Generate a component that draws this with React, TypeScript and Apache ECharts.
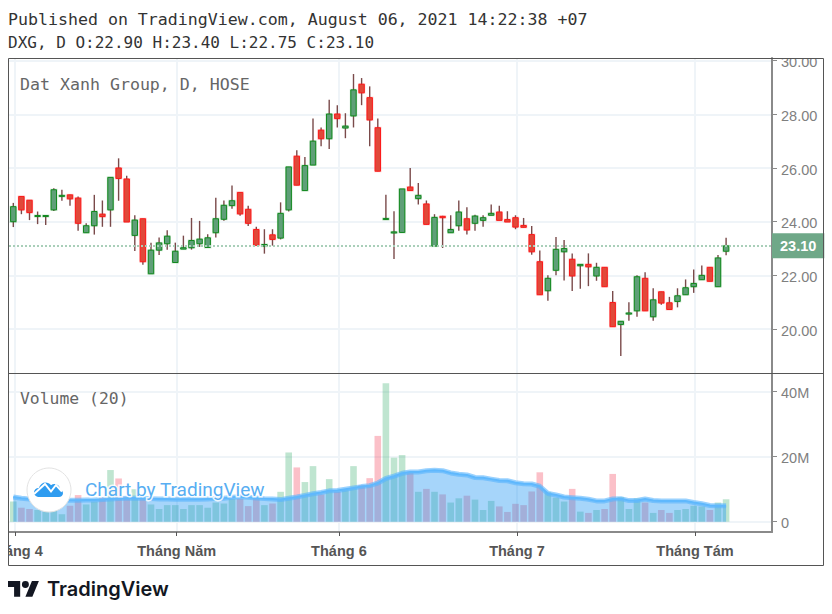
import React, { useEffect, useRef } from "react";
import * as echarts from "echarts";

const opens = [24.0,24.94,24.8,24.2,24.2,24.44,24.95,25.0,24.88,23.59,23.85,24.28,24.44,26.0,25.59,23.49,24.11,22.06,22.94,23.18,22.48,22.98,23.03,23.18,23.04,23.59,24.09,24.6,25.09,24.46,23.71,23.09,23.51,23.39,24.44,26.44,25.16,26.11,27.41,27.09,28.01,27.49,27.94,29.12,28.62,27.5,24.08,23.58,23.6,25.29,24.86,24.66,23.09,24.2,23.59,23.85,24.11,23.94,24.05,24.24,24.36,24.08,24.15,23.86,23.52,22.51,21.43,22.19,22.88,22.6,22.36,22.41,21.98,22.3,20.99,20.17,20.56,20.68,21.89,20.46,21.39,20.98,21.03,21.28,21.58,21.84,22.3,21.58,22.9];
const closes = [24.56,24.44,24.34,24.23,24.23,25.19,24.98,24.85,23.94,23.85,24.38,24.19,25.65,25.61,23.99,24.06,22.51,22.94,23.21,23.46,22.9,23.03,23.3,23.35,23.4,24.11,24.61,24.78,24.29,23.94,23.12,23.15,23.34,24.31,26.04,25.36,26.09,27.0,27.09,28.01,27.84,27.56,28.91,28.8,27.79,25.88,24.12,23.62,25.22,25.16,24.98,23.9,24.16,24.15,23.71,24.36,23.69,24.21,24.15,24.31,24.05,23.99,23.8,23.79,22.88,21.28,21.89,22.97,23.0,21.98,22.41,22.32,22.3,21.58,20.09,20.29,20.6,21.95,20.68,21.09,20.97,20.73,21.24,21.54,21.7,22.0,21.78,22.65,23.1];
const highs = [24.7,24.94,24.8,24.38,24.25,25.25,25.19,25.0,24.94,23.94,25.0,24.79,25.65,26.36,25.71,24.24,24.11,23.22,23.41,23.68,23.22,23.48,24.14,24.03,23.53,24.89,24.79,25.35,25.09,24.59,23.81,23.72,23.72,24.72,26.04,26.66,26.41,27.84,27.51,28.54,28.34,28.04,29.5,29.35,29.04,27.84,25.0,24.39,25.22,26.0,25.44,24.79,24.28,24.22,24.24,24.79,24.54,24.26,24.24,24.64,24.59,24.39,24.24,24.14,23.84,22.93,22.01,23.43,23.32,22.82,22.41,22.82,22.47,22.3,21.42,20.29,21.0,22.01,22.12,21.52,21.39,21.2,21.52,21.85,22.22,22.37,22.3,22.76,23.4];
const lows = [23.8,24.28,24.06,23.91,23.88,24.4,24.78,24.59,23.66,23.59,23.52,23.81,23.81,24.78,23.99,22.91,22.4,22.06,22.76,22.96,22.48,22.98,22.96,23.06,23.04,23.41,24.04,24.48,24.22,23.84,23.12,22.81,23.11,23.34,24.38,25.36,25.16,26.11,26.81,26.71,27.51,27.11,27.51,28.34,26.81,25.88,24.08,22.61,23.6,25.16,24.64,23.9,23.09,23.02,23.59,23.66,23.52,23.66,23.81,24.24,24.05,23.99,23.72,23.79,22.77,21.28,21.06,22.01,21.81,21.42,21.5,21.6,21.8,21.58,20.09,19.0,20.31,20.46,20.68,20.31,20.91,20.73,20.81,21.28,21.35,21.84,21.78,21.58,22.75];
const volumes = [6.2,4.3,3.9,3.6,3.1,4.1,2.3,4.9,8.2,5.3,6.2,7.4,15.9,13.3,7.7,10.0,7.0,5.3,3.9,5.1,5.1,3.9,5.1,5.1,4.3,5.9,5.6,7.0,7.0,4.8,7.2,5.1,5.6,9.2,21.3,16.7,12.2,17.1,8.4,13.1,9.2,9.7,17.1,11.3,13.4,26.4,42.6,19.7,20.5,15.4,9.2,10.1,9.2,8.4,5.9,7.2,8.0,6.8,3.6,6.4,4.7,3.0,5.5,5.1,9.3,15.2,9.2,7.4,6.2,10.1,3.1,2.7,3.6,3.9,14.7,7.6,3.9,7.2,5.9,2.7,3.6,2.7,3.6,3.9,4.9,4.7,3.6,5.9,6.9];
const volumeMA = [7.6,7.2,7.0,6.9,6.8,6.7,6.6,6.6,6.6,6.7,6.7,6.8,7.0,7.1,7.2,7.3,7.2,7.1,7.0,7.0,6.9,6.9,6.9,6.9,7.0,7.1,7.2,7.5,7.7,7.5,7.3,7.1,7.0,6.8,7.2,7.6,8.1,8.6,9.0,9.5,9.6,10.0,10.4,10.8,11.1,11.9,13.3,14.0,14.9,15.3,15.3,15.7,15.8,15.7,15.0,14.6,14.4,13.6,13.5,13.1,12.7,12.6,12.0,11.7,11.6,10.9,8.7,8.2,7.6,7.4,7.2,6.9,6.4,6.4,7.0,7.1,6.5,6.5,7.0,6.5,6.4,6.4,6.4,6.4,5.9,5.5,5.0,4.9,4.9];
const monthTicks = [0.21, 20.17, 40.2, 62.18, 84.16];
const monthLabels = ["Tháng 4", "Tháng Năm", "Tháng 6", "Tháng 7", "Tháng Tám"];
const priceTicks = [20, 22, 24, 26, 28, 30];
const volumeTicks = [0, 20, 40];
const lastClose = 23.1;

const indices = opens.map((_, i) => i);
const candleRows = indices.map((i) => [i, opens[i], closes[i], lows[i], highs[i]]);
const volumeRows = indices.map((i) => ({
  value: [i, volumes[i]],
  itemStyle: { color: closes[i] >= opens[i] ? "rgba(42,168,98,0.3)" : "rgba(242,45,72,0.3)" },
}));
const maRows = indices.map((i) => [i, volumeMA[i]]);

const GRID_LINE = "#eff4f8";
const AXIS_LINE = "#8a8a8a";
const LABEL = "#7f7f7f";
const MONO = '"DejaVu Sans Mono", monospace';
const SANS = '"Liberation Sans", Arial, sans-serif';

echarts.graphic.registerShape(
  "tvMark",
  echarts.graphic.extendPath(
    "M14 22H7V11H0V4h14v18zM28 22h-8l7.5-18h8L28 22zM16 8a4 4 0 1 0 8 0a4 4 0 1 0-8 0z",
    {}
  )
);
echarts.graphic.registerShape(
  "tvCloud",
  echarts.graphic.extendPath(
    "M5.5 15C2.4 15 0 13 0 10.5 0 8 2 6 4.8 6 6 2.5 8.6 0.5 11.5 0.5c2.3 0 4.2 1 5.5 2.7 1-.7 2.2-1.2 3.4-1.2 3.2 0 5.6 2.3 5.6 5.4 1.8.4 3 2 3 3.8C29 13.5 27 15 25 15z",
    {}
  )
);

function renderCandle(_params: any, api: any) {
  const i = api.value(0);
  const o = api.value(1);
  const c = api.value(2);
  const l = api.value(3);
  const h = api.value(4);
  const x = api.coord([i, o])[0];
  const yO = api.coord([i, o])[1];
  const yC = api.coord([i, c])[1];
  const yL = api.coord([i, l])[1];
  const yH = api.coord([i, h])[1];
  const up = c >= o;
  const top = Math.min(yO, yC);
  const height = Math.max(Math.abs(yO - yC), 1);
  const stroke = up ? "#12891f" : "#fb1a1a";
  const fill = up ? "#5f9f78" : "#e0493a";
  const halo = up ? "rgba(18,137,31,0.22)" : "rgba(251,26,26,0.22)";
  return {
    type: "group",
    children: [
      {
        type: "line",
        shape: { x1: x, y1: yH, x2: x, y2: yL },
        style: { stroke: "#7a4a4a", lineWidth: 1.4 },
      },
      {
        type: "rect",
        shape: { x: x - 3.7, y: top - 1, width: 7.4, height: height + 2 },
        style: { fill: halo },
      },
      {
        type: "rect",
        shape: { x: x - 2.7, y: top, width: 5.4, height },
        style: { fill, stroke, lineWidth: 1 },
      },
    ],
  };
}

export default function App() {
  const ref = useRef<HTMLDivElement>(null);
  useEffect(() => {
    const chart = echarts.init(ref.current!, undefined, { renderer: "svg" });
    const xRange = { min: -0.531, max: 93.667 };
    const tickLabelRich = { t: { padding: [3, 0, 0, 0], color: LABEL, fontFamily: SANS, fontSize: 14.5 } };
    chart.setOption({
      animation: false,
      backgroundColor: "#ffffff",
      grid: [
        { left: 9, top: 58, width: 763, height: 315, outerBoundsMode: "none" },
        { left: 9, top: 374, width: 763, height: 158, outerBoundsMode: "none" },
      ],
      xAxis: [
        {
          type: "value",
          gridIndex: 0,
          ...xRange,
          axisLine: { show: false },
          axisTick: { show: false, customValues: monthTicks },
          axisLabel: { show: false, customValues: monthTicks },
          splitLine: { show: true, lineStyle: { color: GRID_LINE, width: 2 } },
        },
        {
          type: "value",
          gridIndex: 1,
          ...xRange,
          axisLine: { show: true, onZero: false, lineStyle: { color: AXIS_LINE, width: 2 } },
          axisTick: { show: true, length: 4, customValues: monthTicks, lineStyle: { color: "#555", width: 1 } },
          axisLabel: {
            show: true,
            customValues: monthTicks,
            margin: 11,
            hideOverlap: false,
            color: "#555555",
            fontFamily: SANS,
            fontWeight: "bold",
            fontSize: 14.5,
            formatter: (v: number) => monthLabels[monthTicks.indexOf(v)] ?? "",
          },
          splitLine: { show: true, lineStyle: { color: GRID_LINE, width: 2 } },
        },
      ],
      yAxis: [
        {
          type: "value",
          gridIndex: 0,
          position: "right",
          min: 18.365,
          max: 30.097,
          axisLine: { show: true, onZero: false, lineStyle: { color: AXIS_LINE, width: 2 } },
          axisTick: { show: true, length: 5, customValues: priceTicks, lineStyle: { color: AXIS_LINE, width: 1 } },
          axisLabel: {
            show: true,
            customValues: priceTicks,
            margin: 9,
            color: LABEL,
            fontFamily: SANS,
            fontSize: 14.5,
            rich: tickLabelRich,
            formatter: (v: number) => `{t|${v.toFixed(2)}}`,
          },
          splitLine: { show: true, lineStyle: { color: GRID_LINE, width: 2 } },
        },
        {
          type: "value",
          gridIndex: 1,
          position: "right",
          min: -3.17,
          max: 45.45,
          axisLine: { show: true, onZero: false, lineStyle: { color: AXIS_LINE, width: 2 } },
          axisTick: { show: true, length: 5, customValues: volumeTicks, lineStyle: { color: AXIS_LINE, width: 1 } },
          axisLabel: {
            show: true,
            customValues: volumeTicks,
            margin: 9,
            color: LABEL,
            fontFamily: SANS,
            fontSize: 14.5,
            rich: tickLabelRich,
            formatter: (v: number) => `{t|${v === 0 ? "0" : v + "M"}}`,
          },
          splitLine: { show: true, lineStyle: { color: GRID_LINE, width: 2 } },
        },
      ],
      series: [
        {
          type: "custom",
          name: "DXG",
          xAxisIndex: 0,
          yAxisIndex: 0,
          data: candleRows,
          encode: { x: 0, y: [1, 2, 3, 4] },
          renderItem: renderCandle,
          clip: true,
          markLine: {
            silent: true,
            symbol: "none",
            lineStyle: { color: "#a9cfb9", type: [2, 2], width: 2 },
            label: {
              show: true,
              position: "end",
              distance: 0,
              formatter: () => lastClose.toFixed(2),
              color: "#ffffff",
              backgroundColor: "#6fa888",
              fontFamily: SANS,
              fontWeight: "bold",
              fontSize: 14.5,
              padding: [6, 8, 4, 8],
            },
            data: [{ yAxis: lastClose }],
          },
        },
        {
          type: "bar",
          name: "Volume",
          xAxisIndex: 1,
          yAxisIndex: 1,
          barWidth: 6.6,
          data: volumeRows,
        },
        {
          type: "line",
          name: "Volume MA",
          xAxisIndex: 1,
          yAxisIndex: 1,
          data: maRows,
          symbol: "none",
          lineStyle: { color: "rgba(88,180,253,0.6)", width: 5 },
          areaStyle: { color: "rgba(33,150,243,0.4)", opacity: 1 },
        },
        {
          type: "line",
          name: "Volume MA core",
          xAxisIndex: 1,
          yAxisIndex: 1,
          data: maRows,
          symbol: "none",
          lineStyle: { color: "#5fb8fd", width: 2 },
        },
      ],
      graphic: [
        { type: "rect", z: 100, shape: { x: 0, y: 535, width: 8, height: 26 }, style: { fill: "#fff" } },
        { type: "rect", z: 100, shape: { x: 775, y: 50, width: 50, height: 8 }, style: { fill: "#fff" } },
        { type: "rect", z: 101, shape: { x: 8.5, y: 58.5, width: 815, height: 507 }, style: { fill: "transparent", stroke: "#555555", lineWidth: 1 } },
        { type: "line", z: 101, shape: { x1: 8, y1: 373.5, x2: 824, y2: 373.5 }, style: { stroke: "#555555", lineWidth: 1 } },
        { type: "text", z: 102, x: 8, y: 19, style: { text: "Published on TradingView.com, August 06, 2021 14:22:38 +07", fill: "#333333", font: `16.6px ${MONO}`, textVerticalAlign: "middle" } },
        { type: "text", z: 102, x: 8, y: 42, style: { text: "DXG, D O:22.90 H:23.40 L:22.75 C:23.10", fill: "#333333", font: `16px ${MONO}`, textVerticalAlign: "middle" } },
        { type: "text", z: 102, x: 20, y: 84, style: { text: "Dat Xanh Group, D, HOSE", fill: "#666666", font: `16.6px ${MONO}`, textVerticalAlign: "middle" } },
        { type: "text", z: 102, x: 20, y: 398, style: { text: "Volume (20)", fill: "#666666", font: `16.4px ${MONO}`, textVerticalAlign: "middle" } },
        { type: "circle", z: 103, shape: { cx: 49, cy: 490, r: 22 }, style: { fill: "#ffffff", stroke: "#e3e3e3", lineWidth: 1 } },
        { type: "tvCloud", z: 104, x: 34, y: 482, scaleX: 1, scaleY: 1, style: { fill: "#2f9cf0" } },
        { type: "polyline", z: 105, x: 34, y: 482, shape: { points: [[0, 12], [11, 2], [17, 9.5], [22, 3], [28, 9.5]] }, style: { fill: "none", stroke: "#ffffff", lineWidth: 2 } },
        { type: "text", z: 103, x: 85, y: 489, style: { text: "Chart by TradingView", fill: "#58aef2", stroke: "rgba(255,255,255,0.85)", lineWidth: 3, font: `19px Roboto, sans-serif`, textVerticalAlign: "middle" } },
        { type: "tvMark", z: 102, x: 8, y: 577.5, scaleX: 0.87, scaleY: 0.87, style: { fill: "#131722" } },
        { type: "text", z: 102, x: 47, y: 589, style: { text: "TradingView", fill: "#131722", font: `600 20px Inter, sans-serif`, textVerticalAlign: "middle" } },
      ],
    });
    return () => chart.dispose();
  }, []);
  return <div ref={ref} style={{ position: "absolute", left: 0, top: 0, width: 832, height: 614 }} />;
}
